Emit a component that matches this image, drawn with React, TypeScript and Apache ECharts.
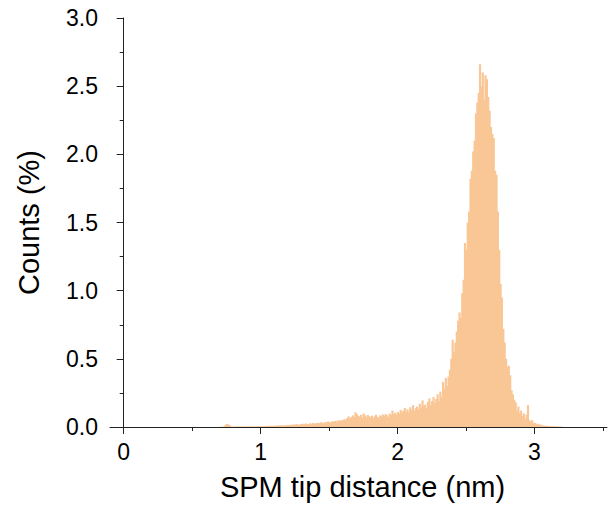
import React, { useEffect, useRef } from "react";
import * as echarts from "echarts";

// Histogram bins: centers start at binStart, spaced by binWidth (nm)
const binStart = 0.7;
const binWidth = 0.01;

// Counts (%), 0.70–1.59 nm
const lowTail = [
  0.002, 0, 0.003, 0.004, 0.012, 0.022, 0.02, 0.015, 0.004, 0.002,
  0.003, 0.004, 0.002, 0.005, 0.003, 0.004, 0.002, 0.005, 0.003, 0.004,
  0.004, 0.003, 0.005, 0.004, 0.006, 0.003, 0.005, 0.004, 0.006, 0.005,
  0.006, 0.004, 0.007, 0.005, 0.009, 0.006, 0.008, 0.01, 0.007, 0.009,
  0.008, 0.011, 0.009, 0.012, 0.01, 0.013, 0.011, 0.009, 0.014, 0.012,
  0.015, 0.012, 0.017, 0.014, 0.019, 0.016, 0.021, 0.018, 0.015, 0.022,
  0.019, 0.024, 0.02, 0.026, 0.022, 0.018, 0.027, 0.024, 0.029, 0.023,
  0.028, 0.025, 0.031, 0.027, 0.035, 0.03, 0.026, 0.037, 0.033, 0.04,
  0.036, 0.031, 0.042, 0.038, 0.045, 0.039, 0.048, 0.043, 0.05, 0.046,
];

// 1.60–2.29 nm
const riseTail = [
  0.052, 0.058, 0.049, 0.065, 0.078, 0.06, 0.072, 0.085, 0.07, 0.108,
  0.095, 0.082, 0.076, 0.09, 0.068, 0.1, 0.085, 0.072, 0.088, 0.079,
  0.07, 0.083, 0.065, 0.078, 0.09, 0.074, 0.068, 0.085, 0.077, 0.092,
  0.08, 0.095, 0.086, 0.074, 0.098, 0.088, 0.12, 0.094, 0.105, 0.09,
  0.11, 0.098, 0.125, 0.104, 0.118, 0.14, 0.112, 0.13, 0.108, 0.145,
  0.125, 0.16, 0.118, 0.138, 0.15, 0.128, 0.17, 0.142, 0.195, 0.155,
  0.165, 0.14, 0.185, 0.21, 0.16, 0.19, 0.22, 0.175, 0.205, 0.24,
];

// 2.30–2.99 nm
const peak = [
  0.19, 0.26, 0.22, 0.33, 0.28, 0.36, 0.3, 0.37, 0.42, 0.5,
  0.64, 0.55, 0.62, 0.7, 0.78, 0.84, 0.8, 0.98, 1.08, 1.35,
  1.3, 1.5, 1.58, 1.82, 1.88, 2.02, 2.1, 2.3, 2.38, 2.45,
  2.66, 2.5, 2.6, 2.4, 2.58, 2.55, 2.42, 2.32, 2.2, 2.15,
  2.12, 1.88, 1.85, 1.58, 1.3, 1.05, 0.95, 0.72, 0.62, 0.5,
  0.44, 0.45, 0.38, 0.27, 0.24, 0.2, 0.18, 0.12, 0.15, 0.1,
  0.12, 0.08, 0.1, 0.06, 0.09, 0.16, 0.05, 0.04, 0.05, 0.03,
];

// 3.00–3.20 nm
const upperTail = [
  0.03, 0.02, 0.025, 0.015, 0.02, 0.01, 0.012, 0.008, 0.01, 0.006,
  0.008, 0.005, 0.006, 0.004, 0.005, 0.003, 0.004, 0.002, 0.003, 0.002,
  0.002,
];

const xMajorTicks = [0, 1, 2, 3];
const xMinorTicks = [0.5, 1.5, 2.5, 3.5];

const barColor = "#F9C695";
const axisColor = "#222";
const fontFamily = "'Liberation Sans', Arial, sans-serif";

export default function App() {
  const ref = useRef<HTMLDivElement>(null);

  useEffect(() => {
    if (!ref.current) return;
    const chart = echarts.init(ref.current, undefined, { renderer: "svg" });
    const counts = [...lowTail, ...riseTail, ...peak, ...upperTail];
    const data = counts.map((c, i) => [
      +(binStart + i * binWidth).toFixed(3),
      c,
    ]);

    const xMin = -0.1;
    const xMax = 3.53;

    chart.setOption({
      animation: false,
      backgroundColor: "#fff",
      grid: { left: 110, right: 1, top: 18, bottom: 83, containLabel: false },
      xAxis: [
        {
          type: "value",
          position: "bottom",
          min: xMin,
          max: xMax,
          name: "SPM tip distance (nm)",
          nameLocation: "middle",
          nameGap: 45,
          nameTextStyle: {
            fontFamily,
            fontSize: 29,
            color: "#000",
            padding: [0, 0, 0, 8],
          },
          axisLine: { show: true, lineStyle: { color: axisColor, width: 1 } },
          axisTick: {
            show: true,
            length: 7,
            customValues: xMajorTicks,
            lineStyle: { color: axisColor, width: 1 },
          },
          axisLabel: {
            customValues: xMajorTicks,
            margin: 13,
            fontFamily,
            fontSize: 23,
            color: "#000",
          },
          splitLine: { show: false },
        },
        {
          type: "value",
          position: "bottom",
          min: xMin,
          max: xMax,
          axisLine: { show: false },
          axisTick: {
            show: true,
            length: 4,
            customValues: xMinorTicks,
            lineStyle: { color: axisColor, width: 1 },
          },
          axisLabel: { show: false },
          splitLine: { show: false },
        },
      ],
      yAxis: {
        type: "value",
        min: 0,
        max: 3,
        interval: 0.5,
        name: "Counts (%)",
        nameLocation: "middle",
        nameGap: 67,
        nameTextStyle: { fontFamily, fontSize: 29, color: "#000" },
        axisLine: { show: true, lineStyle: { color: axisColor, width: 1 } },
        axisTick: { show: true, length: 7, lineStyle: { color: axisColor } },
        minorTick: {
          show: true,
          splitNumber: 2,
          length: 4,
          lineStyle: { color: axisColor },
        },
        axisLabel: {
          margin: 12,
          fontFamily,
          fontSize: 23,
          color: "#000",
          formatter: (v: number) => v.toFixed(1),
        },
        splitLine: { show: false },
      },
      series: [
        {
          type: "custom",
          xAxisIndex: 0,
          encode: { x: 0, y: 1 },
          data,
          renderItem: (params: any, api: any) => {
            const x = api.value(0);
            const y = api.value(1);
            const p0 = api.coord([x - binWidth / 2, 0]);
            const p1 = api.coord([x + binWidth / 2, y]);
            return {
              type: "rect",
              shape: {
                x: p0[0],
                y: p1[1],
                width: p1[0] - p0[0] + 0.8,
                height: p0[1] - p1[1],
              },
              style: { fill: barColor },
            };
          },
        },
      ],
    });

    return () => chart.dispose();
  }, []);

  return (
    <div
      ref={ref}
      style={{ position: "fixed", left: 0, top: 0, width: 608, height: 510 }}
    />
  );
}
